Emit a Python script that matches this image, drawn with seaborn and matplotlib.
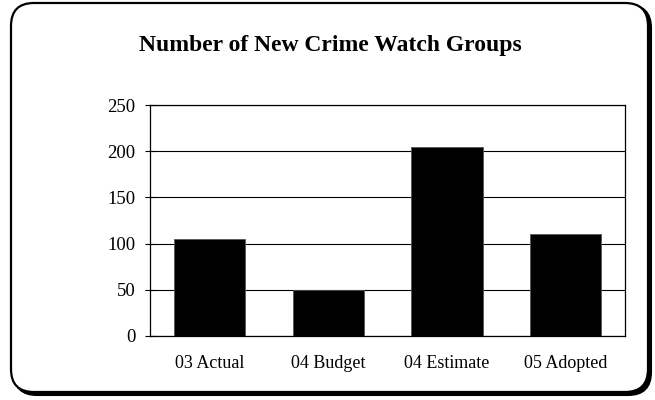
import pandas as pd
import seaborn as sns
import matplotlib.pyplot as plt
from matplotlib.patches import FancyBboxPatch

categories = ['03 Actual', '04 Budget', '04 Estimate', '05 Adopted']
groups = [105, 50, 205, 110]
yticks = [0, 50, 100, 150, 200, 250]

df = pd.DataFrame({'period': categories, 'groups': groups})

sns.set_style('white')
plt.rcParams['font.family'] = ['Liberation Serif', 'DejaVu Serif']
plt.rcParams['text.color'] = 'black'
plt.rcParams['xtick.color'] = 'black'
plt.rcParams['ytick.color'] = 'black'

fig = plt.figure(figsize=(6.55, 4.0), dpi=100)

# rounded frame with a little shadow on the bottom-right
W, H = 655, 400
shadow = FancyBboxPatch((14 / W, 5 / H), 637 / W, 390 / H,
                        boxstyle='round,pad=0,rounding_size=0.035',
                        transform=fig.transFigure, facecolor='black',
                        edgecolor='black', linewidth=1.5, zorder=0,
                        mutation_aspect=W / H)
frame = FancyBboxPatch((11 / W, 8 / H), 637 / W, 389 / H,
                       boxstyle='round,pad=0,rounding_size=0.035',
                       transform=fig.transFigure, facecolor='white',
                       edgecolor='black', linewidth=1.6, zorder=1,
                       mutation_aspect=W / H)
fig.patches.extend([shadow, frame])

ax = fig.add_axes([150 / W, 64 / H, 475 / W, 231 / H])
ax.set_zorder(2)
ax.set_facecolor('white')

sns.barplot(data=df, x='period', y='groups', color='black', width=0.6,
            edgecolor='#555555', linewidth=0.6, saturation=1, ax=ax, zorder=3)

ax.set_ylim(0, 250)
ax.set_yticks(yticks)
ax.yaxis.grid(True, color='black', linewidth=0.8)
ax.set_axisbelow(True)
ax.set_xlabel('')
ax.set_ylabel('')
for s in ax.spines.values():
    s.set_color('black')
    s.set_linewidth(0.9)
ax.tick_params(axis='y', left=True, direction='inout', length=7, width=0.8,
               labelsize=13.5, pad=7)
ax.tick_params(axis='x', bottom=False, labelsize=13, pad=10)

fig.text(0.505, 0.885, 'Number of New Crime Watch Groups', ha='center', va='center',
         fontsize=17, fontweight='bold', zorder=5)

fig.savefig('out.png', dpi=100)
